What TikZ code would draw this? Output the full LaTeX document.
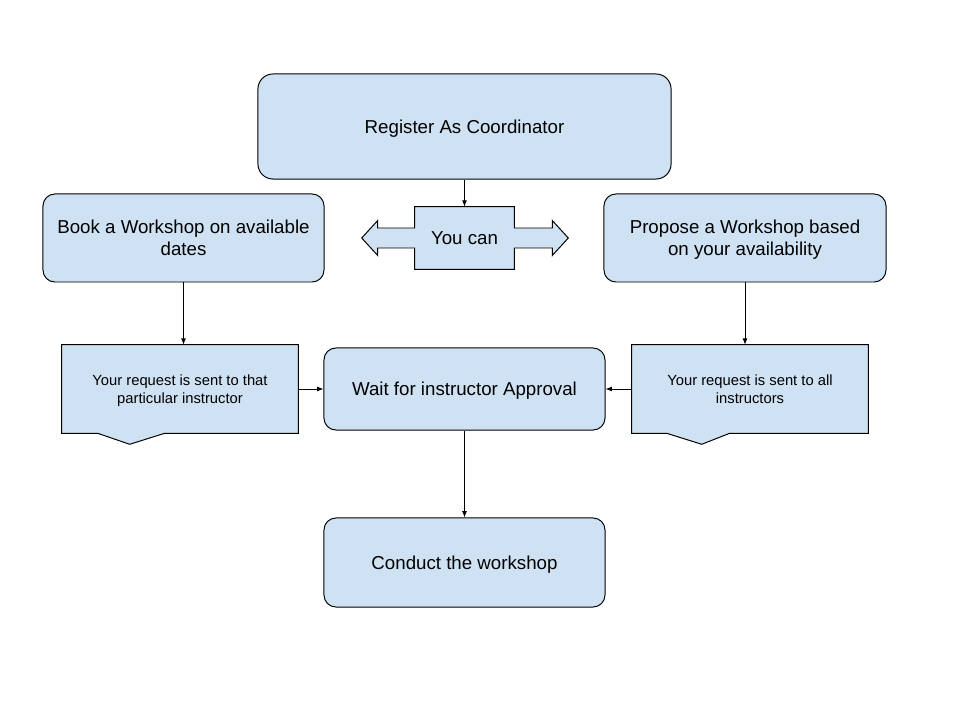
\documentclass[tikz,border=0pt]{standalone}
\usepackage{fontspec}
\setmainfont{Liberation Sans}
\usepackage{tikz}
\usetikzlibrary{arrows.meta,calc,backgrounds}
\definecolor{boxblue}{HTML}{CFE2F3}

\begin{document}
\begin{tikzpicture}[x=0.025cm,y=-0.025cm,
		stepbox/.style={draw,fill=boxblue,line width=0.7pt,rounded corners=0.3cm,align=center,inner sep=0pt,text depth=0pt,font=\fontsize{13.3}{15.5}\selectfont},
		docbox/.style={align=center,inner sep=0pt,text depth=0pt,minimum width=5.9cm,minimum height=2.2cm,font=\fontsize{10.5}{12.5}\selectfont},
		outline/.style={draw,fill=boxblue,line width=0.7pt,line join=miter},
		link/.style={-{Latex[length=4.5pt,width=3.5pt]},line width=0.6pt}]
			\useasboundingbox (0,0) rectangle (960,720);
			\node[stepbox,rounded corners=0.375cm,minimum width=10.325cm,minimum height=2.625cm] (reg) at(464.5,126.5) {Register As Coordinator};
			\node[stepbox,minimum width=7.025cm,minimum height=2.2cm] (book) at(183.5,238) {Book a Workshop on available\\dates};
			\node[stepbox,minimum width=7.05cm,minimum height=2.2cm] (prop) at(745,238) {Propose a Workshop based\\on your availability};
			\node[align=center,inner sep=0pt,text depth=0pt,minimum width=2.475cm,minimum height=1.55cm,font=\fontsize{13.3}{15.5}\selectfont] (can) at(464.5,238) {You can};
			\node[docbox] (req1) at(180,389) {Your request is sent to that\\particular instructor};
			\node[docbox] (req2) at(750,389) {Your request is sent to all\\instructors};
			\node[stepbox,minimum width=7.025cm,minimum height=2.05cm] (wait) at(464.5,389) {Wait for instructor Approval};
			\node[stepbox,minimum width=7.025cm,minimum height=2.225cm] (cond) at(464.5,562.5) {Conduct the workshop};
			\begin{scope}[on background layer]
				\filldraw[outline] (can.north west) -- (can.north east) -- ($(can.east)+(0,-10)$) -- ++(38,0) -- ++(0,-7.5) -- ++(16,17.5) -- ++(-16,17.5) -- ++(0,-7.5) -- ++(-38,0) -- (can.south east) -- (can.south west) -- ($(can.west)+(0,10)$) -- ++(-37,0) -- ++(0,7.5) -- ++(-16,-17.5) -- ++(16,-17.5) -- ++(0,7.5) -- ++(37,0) -- cycle;
				\filldraw[outline] (req1.north west) -- (req1.north east) -- (req1.south east) -- ($(req1.south west)+(103,0)$) -- ++(-35,11) -- ++(-32,-11) -- (req1.south west) -- cycle;
				\filldraw[outline] (req2.north west) -- (req2.north east) -- (req2.south east) -- ($(req2.south west)+(98,0)$) -- ++(-28,11) -- ++(-35,-11) -- (req2.south west) -- cycle;
			\end{scope}
			\draw[link] (reg) -- (can);
			\draw[link] (book.south) -- (book.south |- req1.north);
			\draw[link] (prop.south) -- (prop.south |- req2.north);
			\draw[link] (req1.east) -- (wait.west);
			\draw[link] (req2.west) -- (wait.east);
			\draw[link] (wait) -- (cond);
		\end{tikzpicture}
\end{document}
